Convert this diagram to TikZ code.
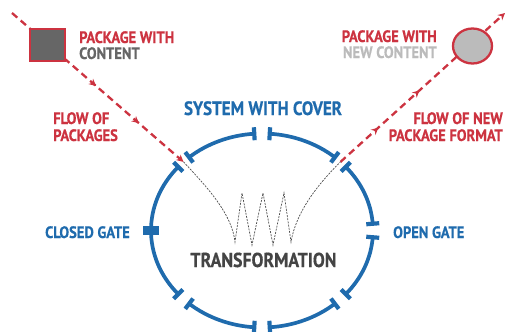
\documentclass[tikz,border=0pt]{standalone}
\usepackage{fontspec}
\newfontfamily\labfont[FakeStretch=0.88,FakeBold=0.5]{PT Sans}
\usetikzlibrary{arrows.meta,decorations.markings,shapes.geometric,calc}
\definecolor{myred}{HTML}{CC3340}
\definecolor{myblue}{HTML}{1F6BAD}
\definecolor{dgrey}{HTML}{666666}
\definecolor{lgrey}{HTML}{BBBBBB}
\definecolor{tgrey}{HTML}{444444}
\tikzset{
  lab/.style={font=\labfont\bfseries\fontsize{16.5}{18}\selectfont, inner sep=0pt},
  biglab/.style={font=\labfont\bfseries\fontsize{19.3}{21}\selectfont, inner sep=0pt},
  hugelab/.style={font=\labfont\bfseries\fontsize{20.2}{22}\selectfont, inner sep=0pt},
  flow/.style={myred, line width=2.3pt, dash pattern=on 7pt off 4.5pt},
  tip/.style={-{Stealth[length=7pt,width=7pt]}},
  cover/.style={myblue, line width=3.7pt},
  gatecap/.style={myblue, line width=4.2pt},
  inner/.style={black!70, line width=0.7pt, dash pattern=on 2pt off 1.2pt},
}
\begin{document}
\begin{tikzpicture}[x=1pt,y=1pt]
\useasboundingbox (0,0) rectangle (507,-332);
\coordinate (C) at (262,-230.5);
% gate coordinates
\coordinate (gUL) at ($(C)+(135:111 and 97)$);
\coordinate (gUR) at ($(C)+(45:111 and 97)$);
\coordinate (gL) at ($(C)+(180:111 and 97)$);
% cover arcs
\foreach \a/\b in {4/41,49/86,94/131,139/221,229/266,274/311,319/356}{
  \draw[cover] ($(C)+(\a:111 and 97)$) arc[start angle=\a, end angle=\b, x radius=111, y radius=97];
}
\foreach \t in {4,41,49,86,94,131,139,221,229,266,274,311,319,356}{
  \pgfmathsetmacro\nx{cos(\t)*97}
  \pgfmathsetmacro\ny{sin(\t)*111}
  \pgfmathsetmacro\nn{sqrt(\nx*\nx+\ny*\ny)}
  \pgfmathsetmacro\ux{6.5*\nx/\nn}
  \pgfmathsetmacro\uy{6.5*\ny/\nn}
  \draw[gatecap] ($(C)+(\t:111 and 97)+(\ux,\uy)$) -- ($(C)+(\t:111 and 97)-(\ux,\uy)$);
}
% closed gate
\node[fill=myblue, minimum width=16pt, minimum height=9pt, inner sep=0pt] (closed) at (gL) {};
% flows
\coordinate (ls) at (12,-13);
\coordinate (re) at (505,-13);
\draw[flow, tip, postaction={decorate}, decoration={markings,
   mark=at position 0.49 with {\arrow{Stealth[length=7pt,width=7pt]}},
   mark=at position 0.74 with {\arrow{Stealth[length=7pt,width=7pt]}}}] (ls) -- (gUL);
\draw[flow, tip, postaction={decorate}, decoration={markings,
   mark=at position 0.23 with {\arrow{Stealth[length=7pt,width=7pt]}},
   mark=at position 0.48 with {\arrow{Stealth[length=7pt,width=7pt]}}}] (gUR) -- (re);
% packages
\node[draw=myred, fill=dgrey, line width=2.3pt, minimum width=35pt, minimum height=32pt, inner sep=0pt] (pkg) at (47.5,-45) {};
\node[ellipse, draw=myred, fill=lgrey, line width=2.3pt, minimum width=39pt, minimum height=35pt, inner sep=0pt] (npkg) at (472.5,-46) {};
% transformation
\coordinate (z0) at (235,-242);
\coordinate (z1) at (242,-193);
\coordinate (z2) at (252,-245);
\coordinate (z3) at (263,-193);
\coordinate (z4) at (273,-245);
\coordinate (z5) at (284,-193);
\coordinate (z6) at (291,-242);
\draw[inner] (gUL) .. controls (210,-190) and (232,-215) .. (z0) -- (z1) -- (z2) -- (z3) -- (z4) -- (z5) -- (z6) .. controls (296,-212) and (318,-184) .. (gUR);
% labels
\node[lab, myred, anchor=base west] (t1) at (79,-43) {PACKAGE WITH};
\node[lab, dgrey, anchor=base west] (t2) at (79,-59) {CONTENT};
\node[lab, myred, anchor=base east] (t3) at (437,-42) {PACKAGE WITH};
\node[lab, lgrey, anchor=base east] (t4) at (437,-58) {NEW CONTENT};
\node[lab, myred, anchor=base west] (t5) at (53,-124) {FLOW OF};
\node[lab, myred, anchor=base west] (t6) at (53,-141) {PACKAGES};
\node[lab, myred, anchor=base east] (t7) at (503,-124) {FLOW OF NEW};
\node[lab, myred, anchor=base east] (t8) at (503,-141) {PACKAGE FORMAT};
\node[biglab, myblue, anchor=base] (t9) at (263,-115) {SYSTEM WITH COVER};
\node[lab, myblue, anchor=base east] (t10) at (130,-238) {CLOSED GATE};
\node[lab, myblue, anchor=base west] (t11) at (393,-238) {OPEN GATE};
\node[hugelab, tgrey, anchor=base] (t12) at (263.5,-267) {TRANSFORMATION};
\end{tikzpicture}
\end{document}
